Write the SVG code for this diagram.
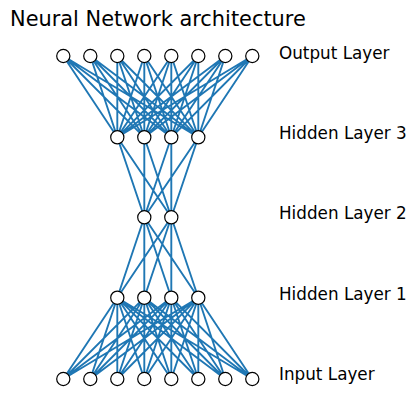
<svg xmlns="http://www.w3.org/2000/svg" width="415" height="413" viewBox="0 0 415 413">
<style>
  .edge { stroke: #1f77b4; stroke-width: 1.9; fill: none; }
  .node { fill: #ffffff; stroke: #000000; stroke-width: 1.2; }
  .lbl { font-family: "DejaVu Sans", sans-serif; font-size: 16.8px; fill: #000000; }
  .title { font-family: "DejaVu Sans", sans-serif; font-size: 20.9px; fill: #000000; }
</style>
<rect width="415" height="413" fill="#ffffff"/>
<text class="title" x="10" y="26">Neural Network architecture</text>
<g id="connectors">
  <!-- input (y=379) to hidden 1 (y=297.7) -->
  <path class="edge" d="
M63.3,379L117.3,297.7M63.3,379L144.3,297.7M63.3,379L171.3,297.7M63.3,379L198.3,297.7
M90.3,379L117.3,297.7M90.3,379L144.3,297.7M90.3,379L171.3,297.7M90.3,379L198.3,297.7
M117.3,379L117.3,297.7M117.3,379L144.3,297.7M117.3,379L171.3,297.7M117.3,379L198.3,297.7
M144.3,379L117.3,297.7M144.3,379L144.3,297.7M144.3,379L171.3,297.7M144.3,379L198.3,297.7
M171.3,379L117.3,297.7M171.3,379L144.3,297.7M171.3,379L171.3,297.7M171.3,379L198.3,297.7
M198.3,379L117.3,297.7M198.3,379L144.3,297.7M198.3,379L171.3,297.7M198.3,379L198.3,297.7
M225.3,379L117.3,297.7M225.3,379L144.3,297.7M225.3,379L171.3,297.7M225.3,379L198.3,297.7
M252.3,379L117.3,297.7M252.3,379L144.3,297.7M252.3,379L171.3,297.7M252.3,379L198.3,297.7"/>
  <!-- hidden 1 to hidden 2 (y=217.3) -->
  <path class="edge" d="
M117.3,297.7L144.3,217.3M117.3,297.7L171.3,217.3
M144.3,297.7L144.3,217.3M144.3,297.7L171.3,217.3
M171.3,297.7L144.3,217.3M171.3,297.7L171.3,217.3
M198.3,297.7L144.3,217.3M198.3,297.7L171.3,217.3"/>
  <!-- hidden 2 to hidden 3 (y=137.3) -->
  <path class="edge" d="
M144.3,217.3L117.3,137.3M144.3,217.3L144.3,137.3M144.3,217.3L171.3,137.3M144.3,217.3L198.3,137.3
M171.3,217.3L117.3,137.3M171.3,217.3L144.3,137.3M171.3,217.3L171.3,137.3M171.3,217.3L198.3,137.3"/>
  <!-- hidden 3 to output (y=56) -->
  <path class="edge" d="
M117.3,137.3L63.3,56M117.3,137.3L90.3,56M117.3,137.3L117.3,56M117.3,137.3L144.3,56M117.3,137.3L171.3,56M117.3,137.3L198.3,56M117.3,137.3L225.3,56M117.3,137.3L252.3,56
M144.3,137.3L63.3,56M144.3,137.3L90.3,56M144.3,137.3L117.3,56M144.3,137.3L144.3,56M144.3,137.3L171.3,56M144.3,137.3L198.3,56M144.3,137.3L225.3,56M144.3,137.3L252.3,56
M171.3,137.3L63.3,56M171.3,137.3L90.3,56M171.3,137.3L117.3,56M171.3,137.3L144.3,56M171.3,137.3L171.3,56M171.3,137.3L198.3,56M171.3,137.3L225.3,56M171.3,137.3L252.3,56
M198.3,137.3L63.3,56M198.3,137.3L90.3,56M198.3,137.3L117.3,56M198.3,137.3L144.3,56M198.3,137.3L171.3,56M198.3,137.3L198.3,56M198.3,137.3L225.3,56M198.3,137.3L252.3,56"/>
</g>
<g id="output-layer">
  <circle class="node" cx="63.3" cy="56" r="6.6"/>
  <circle class="node" cx="90.3" cy="56" r="6.6"/>
  <circle class="node" cx="117.3" cy="56" r="6.6"/>
  <circle class="node" cx="144.3" cy="56" r="6.6"/>
  <circle class="node" cx="171.3" cy="56" r="6.6"/>
  <circle class="node" cx="198.3" cy="56" r="6.6"/>
  <circle class="node" cx="225.3" cy="56" r="6.6"/>
  <circle class="node" cx="252.3" cy="56" r="6.6"/>
  <text class="lbl" x="279" y="58.5">Output Layer</text>
</g>
<g id="hidden-layer-3">
  <circle class="node" cx="117.3" cy="137.3" r="6.6"/>
  <circle class="node" cx="144.3" cy="137.3" r="6.6"/>
  <circle class="node" cx="171.3" cy="137.3" r="6.6"/>
  <circle class="node" cx="198.3" cy="137.3" r="6.6"/>
  <text class="lbl" x="279" y="139">Hidden Layer 3</text>
</g>
<g id="hidden-layer-2">
  <circle class="node" cx="144.3" cy="217.3" r="6.6"/>
  <circle class="node" cx="171.3" cy="217.3" r="6.6"/>
  <text class="lbl" x="279" y="219.3">Hidden Layer 2</text>
</g>
<g id="hidden-layer-1">
  <circle class="node" cx="117.3" cy="297.7" r="6.6"/>
  <circle class="node" cx="144.3" cy="297.7" r="6.6"/>
  <circle class="node" cx="171.3" cy="297.7" r="6.6"/>
  <circle class="node" cx="198.3" cy="297.7" r="6.6"/>
  <text class="lbl" x="279" y="299.7">Hidden Layer 1</text>
</g>
<g id="input-layer">
  <circle class="node" cx="63.3" cy="379" r="6.6"/>
  <circle class="node" cx="90.3" cy="379" r="6.6"/>
  <circle class="node" cx="117.3" cy="379" r="6.6"/>
  <circle class="node" cx="144.3" cy="379" r="6.6"/>
  <circle class="node" cx="171.3" cy="379" r="6.6"/>
  <circle class="node" cx="198.3" cy="379" r="6.6"/>
  <circle class="node" cx="225.3" cy="379" r="6.6"/>
  <circle class="node" cx="252.3" cy="379" r="6.6"/>
  <text class="lbl" x="279" y="380">Input Layer</text>
</g>
</svg>
